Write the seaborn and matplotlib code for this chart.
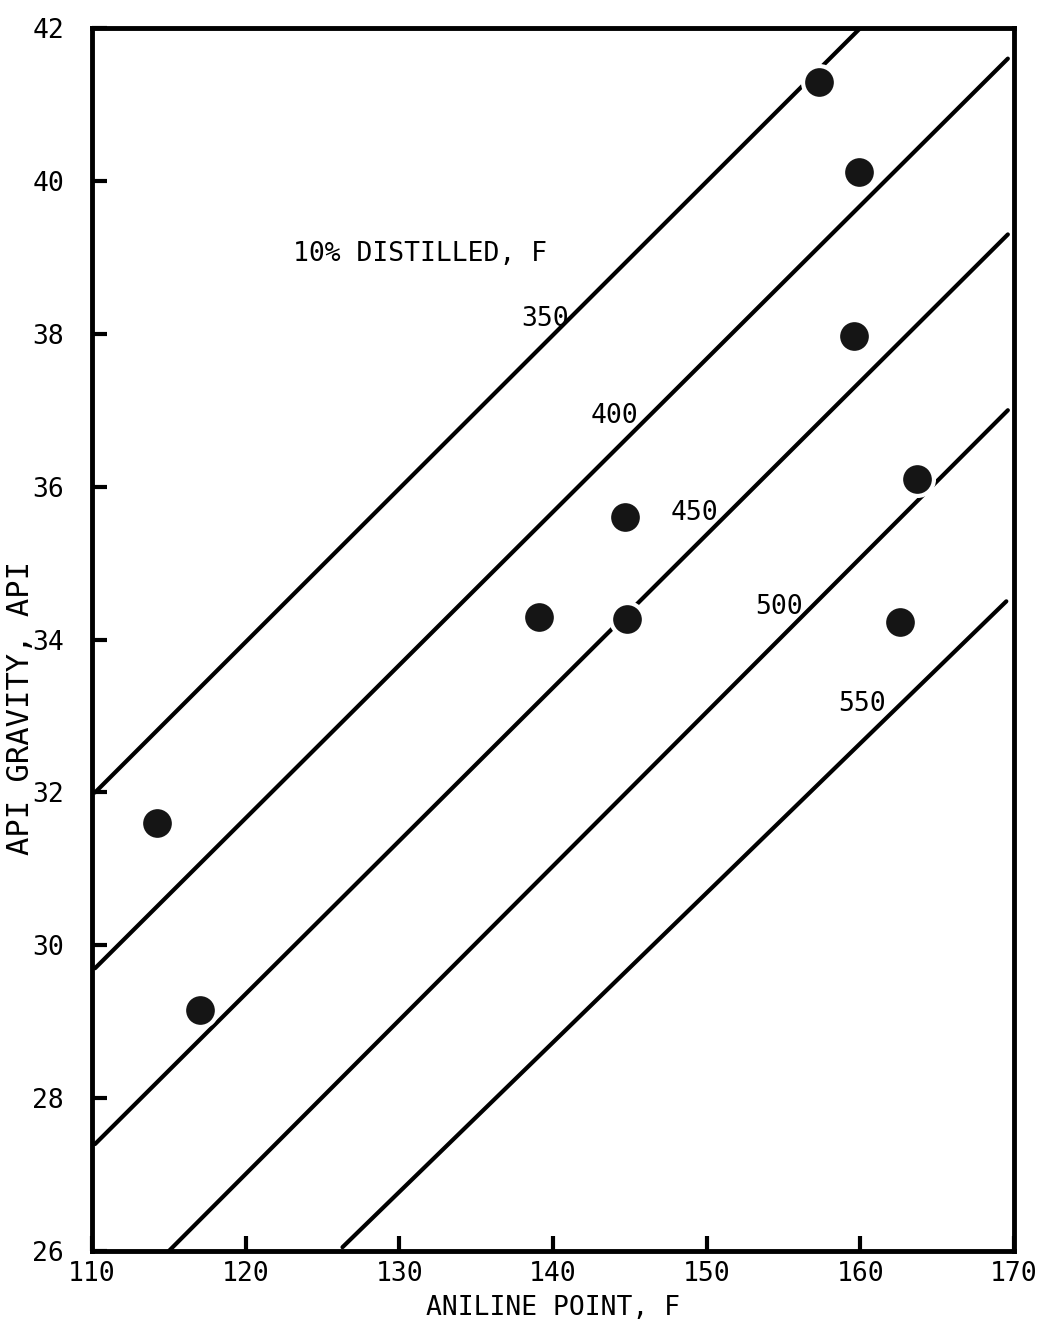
import matplotlib
matplotlib.use("Agg")
import matplotlib.pyplot as plt
import seaborn as sns
import pandas as pd

# Measured samples: aniline point (F) vs API gravity
aniline_point = [157.3, 159.9, 159.6, 163.7, 144.7, 144.8, 139.1, 162.6, 114.2, 117.0]
api_gravity = [41.3, 40.12, 37.97, 36.1, 35.6, 34.27, 34.3, 34.23, 31.6, 29.15]

# Correlation lines for the 10% distilled temperature (F): end points
line_temps = [350, 400, 450, 500, 550]
line_x_start = [110.2, 110.2, 110.2, 115.0, 126.3]
line_y_start = [32.0, 29.7, 27.4, 26.0, 26.05]
line_x_end = [160.0, 169.6, 169.6, 169.6, 169.5]
line_y_end = [42.0, 41.6, 39.3, 37.0, 34.5]

# Label positions for each correlation line
label_x = [139.5, 144.0, 149.2, 154.7, 160.1]
label_y = [38.2, 36.93, 35.66, 34.43, 33.16]

x_ticks = [110, 120, 130, 140, 150, 160, 170]
y_ticks = [26, 28, 30, 32, 34, 36, 38, 40, 42]

sns.set_theme(style="white")
mono = ["DejaVu Sans Mono", "DejaVu Sans"]
plt.rcParams["font.family"] = mono

fig = plt.figure(figsize=(10.6, 13.23), dpi=100)
ax = fig.add_axes([0.0868, 0.0544, 0.8698, 0.9244])

lines_df = pd.DataFrame({
    "x": line_x_start + line_x_end,
    "y": line_y_start + line_y_end,
    "temp": line_temps + line_temps,
})
sns.lineplot(data=lines_df, x="x", y="y", units="temp", estimator=None,
             color="black", linewidth=3.0, sort=True, ax=ax, zorder=2)

pts = pd.DataFrame({"aniline": aniline_point, "api": api_gravity})
sns.scatterplot(data=pts, x="aniline", y="api", s=560, color="#151515",
                edgecolor="white", linewidth=3.0, ax=ax, zorder=3)

for t, lx, ly in zip(line_temps, label_x, label_y):
    ax.text(lx, ly, str(t), fontsize=19, ha="center", va="center",
            color="black", family=mono)

ax.text(123.1, 39.05, "10% DISTILLED, F", fontsize=19, ha="left",
        va="center", color="black", family=mono)

ax.set_xlim(110, 170)
ax.set_ylim(26, 42)
ax.set_xticks(x_ticks)
ax.set_yticks(y_ticks)
ax.set_xticklabels([str(v) for v in x_ticks])
ax.set_yticklabels([str(v) for v in y_ticks])

for side in ["left", "right", "top", "bottom"]:
    ax.spines[side].set_visible(True)
    ax.spines[side].set_color("black")
    ax.spines[side].set_linewidth(3.5)

ax.tick_params(axis="both", which="major", direction="in", length=11,
               width=3, colors="black", labelsize=19, labelcolor="black")
ax.tick_params(axis="x", pad=7, bottom=True, top=False)
ax.tick_params(axis="y", pad=20, left=True, right=False)
for lab in ax.get_xticklabels() + ax.get_yticklabels():
    lab.set_family(mono)

ax.set_xlabel("ANILINE POINT, F", fontsize=19, family=mono, color="black")
ax.set_ylabel("API GRAVITY, API", fontsize=22, family=mono, color="black")
ax.xaxis.set_label_coords(0.50, -0.036)
ax.yaxis.set_label_coords(-0.062, 0.444)
ax.grid(False)

fig.savefig("out.png", dpi=100, facecolor="white")
